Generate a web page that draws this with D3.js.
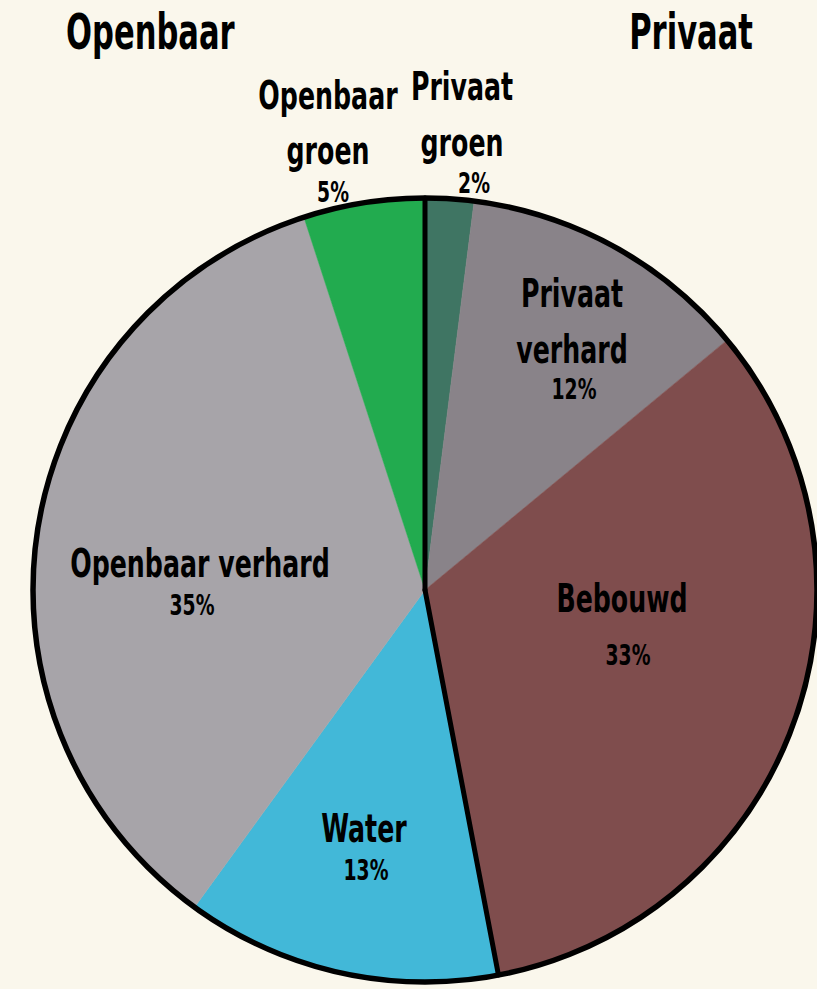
<!DOCTYPE html>
<html>
<head>
<meta charset="utf-8">
<script src="https://cdn.jsdelivr.net/npm/d3@7"></script>
<style>
  html, body { margin: 0; padding: 0; background: #faf7ec; }
  svg { display: block; }
  text { font-family: "DejaVu Sans Condensed", "DejaVu Sans", sans-serif; font-weight: bold; fill: #000; }
</style>
</head>
<body>
<svg id="chart" width="817" height="989"></svg>
<script>
// Data (clockwise from 12 o'clock)
const categories = ["Privaat groen", "Privaat verhard", "Bebouwd", "Water", "Openbaar verhard", "Openbaar groen"];
const values = [2, 12, 33, 13, 35, 5];
const labelLines = [["Privaat", "groen"], ["Privaat", "verhard"], ["Bebouwd"], ["Water"], ["Openbaar verhard"], ["Openbaar", "groen"]];
const percentLabels = ["2%", "12%", "33%", "13%", "35%", "5%"];
const groupTitles = ["Openbaar", "Privaat"];

// Styles / layout
const colors = ["#3f7563", "#898389", "#7f4d4d", "#42b8d8", "#a7a4a9", "#22ab4f"];
const W = 817, H = 989;
const cx = 425, cy = 590, R = 392;
// label anchor positions relative to centre
const labelPos = [
  {x: 37, y: -504, lh: 56, px: 49, py: -407},
  {x: 147, y: -297, lh: 56, px: 149, py: -201},
  {x: 197, y: 8, lh: 0, px: 203, py: 65},
  {x: -61, y: 238, lh: 0, px: -59, py: 280},
  {x: -225, y: -27, lh: 0, px: -233, py: 15},
  {x: -97, y: -495, lh: 55, px: -92, py: -398}
];
const nameSize = 39, pctSize = 29, titleSize = 50;
const nameSX = 0.72, pctSX = 0.72, titleSX = 0.68;

const svg = d3.select("#chart");
svg.append("rect").attr("width", W).attr("height", H).attr("fill", "#faf7ec");

const pie = d3.pie().sort(null).value(d => d).startAngle(0).endAngle(2 * Math.PI);
const arcs = pie(values);
const arc = d3.arc().innerRadius(0).outerRadius(R);

const g = svg.append("g").attr("transform", `translate(${cx},${cy})`);
g.selectAll("path.slice").data(arcs).join("path")
  .attr("class", "slice")
  .attr("d", arc)
  .attr("fill", (d, i) => colors[i])
  .attr("stroke", (d, i) => colors[i])
  .attr("stroke-width", 0.5);

// dividing lines between Privaat and Openbaar
const divAngles = [arcs[0].startAngle, arcs[2].endAngle];
g.selectAll("line.div").data(divAngles).join("line")
  .attr("class", "div")
  .attr("x1", 0).attr("y1", 0)
  .attr("x2", a => R * Math.sin(a))
  .attr("y2", a => -R * Math.cos(a))
  .attr("stroke", "#000").attr("stroke-width", 5).attr("stroke-linecap", "round");

g.append("circle").attr("r", R).attr("fill", "none").attr("stroke", "#000").attr("stroke-width", 5.5);

function addText(parent, x, y, sx, size, txt, anchor) {
  parent.append("text")
    .attr("transform", `translate(${x},${y}) scale(${sx},1)`)
    .attr("text-anchor", anchor || "middle")
    .attr("dominant-baseline", "central")
    .style("font-size", size + "px")
    .text(txt);
}

// slice labels
const lab = g.selectAll("g.lab").data(arcs).join("g").attr("class", "lab");
lab.each(function(d, i) {
  const p = labelPos[i];
  const s = d3.select(this);
  labelLines[i].forEach((t, j) => addText(s, p.x, p.y + j * p.lh, nameSX, nameSize, t));
  addText(s, p.px, p.py, pctSX, pctSize, percentLabels[i]);
});

// group titles
addText(svg, 66, 31, titleSX, titleSize, groupTitles[0], "start");
addText(svg, 753, 31, titleSX, titleSize, groupTitles[1], "end");
</script>
</body>
</html>
